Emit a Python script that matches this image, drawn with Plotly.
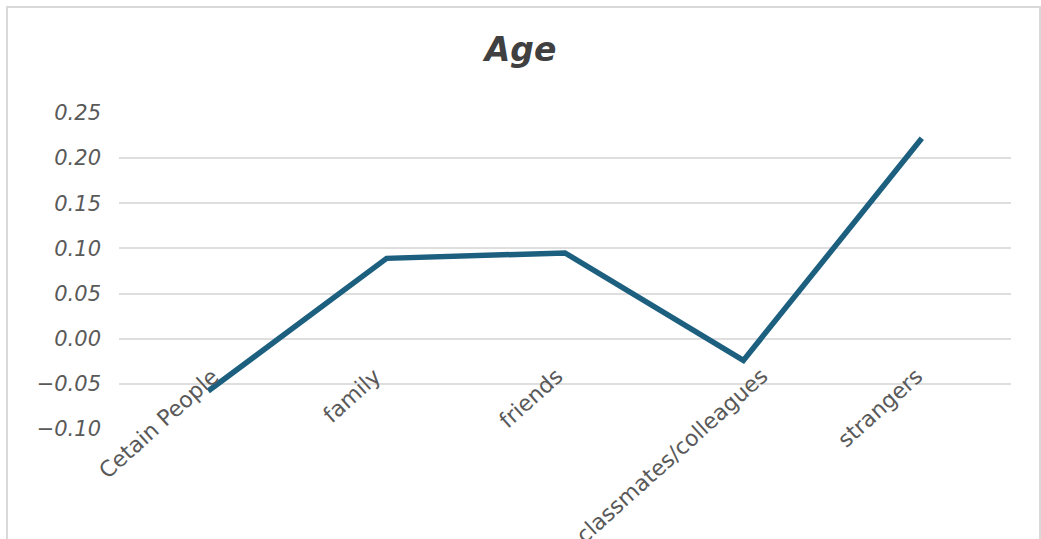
import plotly.graph_objects as go

# Correlation with age for each group of contacts
categories = ["Cetain People", "family", "friends", "classmates/colleagues", "strangers"]
values = [-0.058, 0.089, 0.095, -0.024, 0.222]
y_ticks = [-0.10, -0.05, 0.00, 0.05, 0.10, 0.15, 0.20, 0.25]
y_tick_text = ["\u22120.10", "\u22120.05", "0.00", "0.05", "0.10", "0.15", "0.20", "0.25"]

TEXT = "#595959"
GRID = "#dedede"
LINE = "#1c5f7f"
FONT = "DejaVu Sans"

W, H = 1041, 539
L, R, T, B = 119, 30, 113, 110

x_idx = list(range(len(categories)))

fig = go.Figure()
fig.add_trace(go.Scatter(
    x=x_idx, y=values, mode="lines",
    line=dict(color=LINE, width=5.5),
    hoverinfo="skip", showlegend=False,
))

# rotated category labels hanging below the zero line
label_dx = [14, -2, 1, 28, 5]
for i, (name, dx) in enumerate(zip(categories, label_dx)):
    fig.add_annotation(
        x=i, y=0, xref="x", yref="y", text=name, showarrow=False,
        textangle=-42, xanchor="right", yanchor="top",
        xshift=dx + 4, yshift=-22,
        font=dict(family=FONT, size=22, color=TEXT),
    )

# outer chart frame
pw, ph = W - L - R, H - T - B
fig.add_shape(
    type="rect", xref="paper", yref="paper", layer="below",
    x0=(7 - L) / pw, x1=(1040 - L) / pw,
    y0=-0.5, y1=(H - B - 7) / ph,
    line=dict(color="#d9d9d9", width=2), fillcolor="rgba(0,0,0,0)",
)

fig.update_layout(
    width=W, height=H,
    margin=dict(l=L, r=R, t=T, b=B),
    paper_bgcolor="white", plot_bgcolor="white",
    title=dict(
        text="Age", x=0.5, xanchor="center", y=1 - 49 / H, yanchor="middle",
        font=dict(family=FONT, size=33, color="#404040", style="italic", weight="bold"),
    ),
    xaxis=dict(
        range=[-0.5, len(categories) - 0.5], showgrid=False, zeroline=False,
        showticklabels=False, ticks="", showline=False, fixedrange=True,
    ),
    yaxis=dict(
        range=[-0.10, 0.25], tickvals=y_ticks, ticktext=y_tick_text,
        showgrid=True, gridcolor=GRID, gridwidth=2, zeroline=False,
        showline=False, ticks="", ticklabelstandoff=17,
        tickfont=dict(family=FONT, size=21, color=TEXT, style="italic"),
        fixedrange=True,
    ),
)

fig.write_html("out.html")
